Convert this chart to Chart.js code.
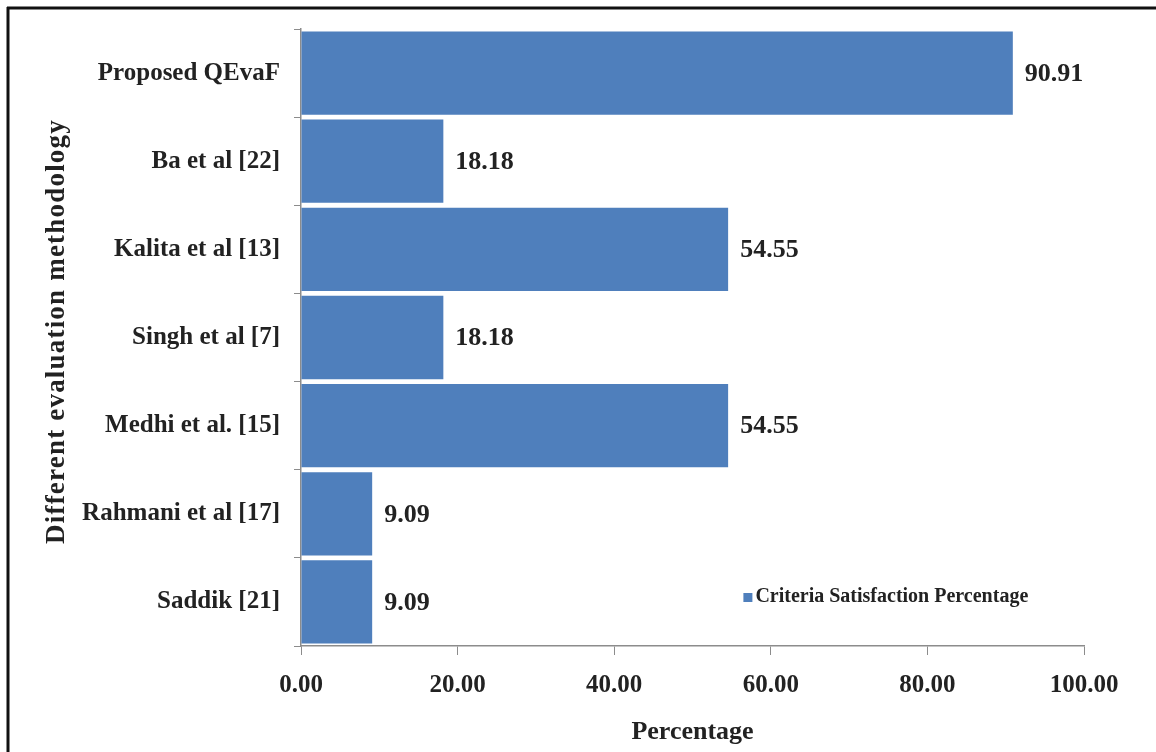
<!DOCTYPE html>
<html>
<head>
<meta charset="utf-8">
<script src="https://cdn.jsdelivr.net/npm/chart.js@4"></script>
<style>
    html, body { margin: 0; padding: 0; background: #fff; }
    #wrap { width: 1156px; height: 752px; }
</style>
</head>
<body>
<div id="wrap"><canvas id="methodChart" width="1156" height="752"></canvas></div>
<script>
// ========== DATA ==========
const methods = ['Proposed QEvaF', 'Ba et al [22]', 'Kalita et al [13]', 'Singh et al [7]',
                 'Medhi et al. [15]', 'Rahmani et al [17]', 'Saddik [21]'];
const satisfaction = [90.91, 18.18, 54.55, 18.18, 54.55, 9.09, 9.09];
const xTicks = [0, 20, 40, 60, 80, 100];
const seriesName = 'Criteria Satisfaction Percentage';
const yTitle = 'Different evaluation methodology';

const FONT = "'Liberation Serif', 'Times New Roman', serif";
const BAR_BLUE = '#4f7fbc';
const AXIS_GREY = '#8c8c8c';

// Frame lines (top + left only, like the scanned figure)
const framePlugin = {
    id: 'frame',
    beforeDraw(chart) {
        const ctx = chart.ctx;
        ctx.save();
        ctx.fillStyle = '#fff';
        ctx.fillRect(0, 0, chart.width, chart.height);
        ctx.strokeStyle = '#111';
        ctx.lineWidth = 3;
        ctx.beginPath();
        ctx.moveTo(7, 8);
        ctx.lineTo(chart.width, 8);
        ctx.moveTo(8, 7);
        ctx.lineTo(8, chart.height);
        ctx.stroke();
        ctx.restore();
    }
};

// Rotated y title, a bit letter-spaced like the original
const yTitlePlugin = {
    id: 'yTitle',
    afterDraw(chart) {
        const ctx = chart.ctx;
        const area = chart.chartArea;
        ctx.save();
        ctx.translate(57, (area.top + area.bottom) / 2 - 6);
        ctx.rotate(-Math.PI / 2);
        ctx.font = 'bold 27px ' + FONT;
        ctx.letterSpacing = '1.2px';
        ctx.fillStyle = '#222';
        ctx.textAlign = 'center';
        ctx.textBaseline = 'middle';
        ctx.fillText(yTitle, 0, 0);
        ctx.restore();
    }
};

// Value labels at the end of each bar
const valueLabels = {
    id: 'valueLabels',
    afterDatasetsDraw(chart) {
        const ctx = chart.ctx;
        const meta = chart.getDatasetMeta(0);
        ctx.save();
        ctx.font = 'bold 26px ' + FONT;
        ctx.fillStyle = '#222';
        ctx.textAlign = 'left';
        ctx.textBaseline = 'middle';
        meta.data.forEach((bar, i) => {
            ctx.fillText(satisfaction[i].toFixed(2), bar.x + 12, bar.y + 1);
        });
        ctx.restore();
    }
};

// Legend drawn inside the plot, lower right
const innerLegend = {
    id: 'innerLegend',
    afterDraw(chart) {
        const ctx = chart.ctx;
        const x = chart.scales.x.getPixelForValue(56.5);
        const y = 597;
        ctx.save();
        ctx.fillStyle = BAR_BLUE;
        ctx.fillRect(x, y - 4, 9, 9);
        ctx.font = 'bold 20px ' + FONT;
        ctx.fillStyle = '#222';
        ctx.textAlign = 'left';
        ctx.textBaseline = 'middle';
        ctx.fillText(chart.data.datasets[0].label, x + 12, y);
        ctx.restore();
    }
};

const ctx = document.getElementById('methodChart').getContext('2d');
new Chart(ctx, {
    type: 'bar',
    data: {
        labels: methods,
        datasets: [{
            label: seriesName,
            data: satisfaction,
            backgroundColor: BAR_BLUE,
            borderWidth: 0,
            barPercentage: 0.945,
            categoryPercentage: 1.0
        }]
    },
    options: {
        indexAxis: 'y',
        responsive: false,
        animation: false,
        layout: { padding: { left: 0, right: 72, top: 29, bottom: 0 } },
        plugins: {
            legend: { display: false },
            tooltip: { enabled: false }
        },
        scales: {
            x: {
                min: 0,
                max: 100,
                afterBuildTicks(scale) {
                    scale.ticks = xTicks.map(v => ({ value: v }));
                },
                afterFit(scale) { scale.height = 106; },
                grid: { drawOnChartArea: false, tickLength: 9, color: AXIS_GREY, tickColor: AXIS_GREY },
                border: { color: AXIS_GREY, width: 1.5 },
                ticks: {
                    padding: 16,
                    color: '#222',
                    font: { family: FONT, size: 25, weight: 'bold' },
                    callback: v => Number(v).toFixed(2)
                },
                title: {
                    display: true,
                    text: 'Percentage',
                    color: '#222',
                    font: { family: FONT, size: 26, weight: 'bold' },
                    padding: { top: 0, bottom: 4 }
                }
            },
            y: {
                afterFit(scale) { scale.width = 301; },
                grid: { drawOnChartArea: false, offset: true, tickLength: 7, color: AXIS_GREY, tickColor: AXIS_GREY },
                border: { color: AXIS_GREY, width: 1.5 },
                ticks: {
                    padding: 14,
                    color: '#222',
                    font: { family: FONT, size: 25, weight: 'bold' }
                }
            }
        }
    },
    plugins: [framePlugin, valueLabels, innerLegend, yTitlePlugin]
});
</script>
</body>
</html>
